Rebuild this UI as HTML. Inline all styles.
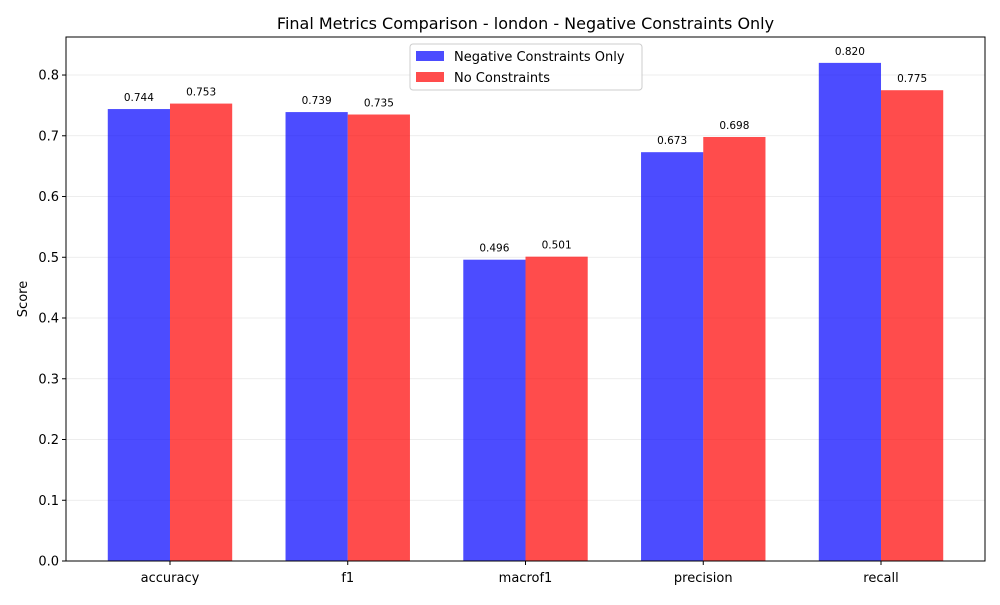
<!DOCTYPE html>
<html><head><meta charset="utf-8"><style>
body{margin:0;background:#fff;font-family:"Liberation Sans","DejaVu Sans",sans-serif;}
</style></head><body>
<svg id="chart" width="1000" height="600" xmlns="http://www.w3.org/2000/svg" font-family="DejaVu Sans, Liberation Sans, sans-serif">
<rect width="1000" height="600" fill="#fff"/>
<text x="525.5" y="29" text-anchor="middle" font-size="16">Final Metrics Comparison - london - Negative Constraints Only</text>
<text transform="translate(27,299) rotate(-90)" text-anchor="middle" font-size="13">Score</text>
<g id="grid"></g><g id="bars"></g><g id="labels"></g><g id="axes"></g>
<g>
<rect x="410" y="44" width="232" height="46" rx="3" fill="#fff" fill-opacity="0.8" stroke="#ccc"/>
<rect x="416" y="51" width="28" height="10" fill="#0000ff" fill-opacity="0.7"/>
<text x="454" y="61" font-size="13">Negative Constraints Only</text>
<rect x="416" y="72" width="28" height="10" fill="#ff0000" fill-opacity="0.7"/>
<text x="454" y="82" font-size="13">No Constraints</text>
</g>
</svg>
<script>
const categories=["accuracy","f1","macrof1","precision","recall"];
const negValues=[0.744,0.739,0.496,0.673,0.820];
const noneValues=[0.753,0.735,0.501,0.698,0.775];
const yTicks=[0,0.1,0.2,0.3,0.4,0.5,0.6,0.7,0.8];
const L=66,R=985,T=37,B=561,yMax=0.8626,xMin=-0.585,xMax=4.585,bw=0.35;
const ns="http://www.w3.org/2000/svg";
const y=v=>B-(v/yMax)*(B-T);
const x=v=>L+(v-xMin)/(xMax-xMin)*(R-L);
function mk(tag,attrs,parent,text){const e=document.createElementNS(ns,tag);for(const k in attrs)e.setAttribute(k,attrs[k]);if(text!==undefined)e.textContent=text;document.getElementById(parent).appendChild(e);return e;}
yTicks.forEach(t=>{
 const g=mk("line",{x1:L,x2:R,y1:y(t),y2:y(t),stroke:"#b0b0b0","stroke-opacity":0.3,"stroke-width":0.8},"grid");
 
 
 const tk=mk("line",{x1:L-4,x2:L,y1:y(t),y2:y(t),stroke:"#000"},"axes");
 
 
 const tl=mk("text",{x:L-7,y:y(t)+4.5,"text-anchor":"end","font-size":13},"axes",t.toFixed(1));
 
 
});
categories.forEach((c,i)=>{
 [[negValues,"#0000ff",-1,"bar-negative"],[noneValues,"#ff0000",0,"bar-none"]].forEach(([arr,col,off,nm])=>{
  const x0=x(i+off*bw),x1=x(i+(off+1)*bw);
  const r=mk("rect",{x:x0,y:y(arr[i]),width:x1-x0,height:B-y(arr[i]),fill:col,"fill-opacity":0.7},"bars");
  
  
  const t=mk("text",{x:(x0+x1)/2,y:y(arr[i])-8,"text-anchor":"middle","font-size":10.5},"labels",arr[i].toFixed(3));
  
  
 });
 const tk=mk("line",{x1:x(i),x2:x(i),y1:B,y2:B+4,stroke:"#000"},"axes");
 
 
 const tl=mk("text",{x:x(i),y:B+21,"text-anchor":"middle","font-size":13},"axes",c);
 
 
});
const f=mk("rect",{x:L,y:T,width:R-L,height:B-T,fill:"none",stroke:"#000","stroke-width":1},"axes");


</script>
</body></html>
